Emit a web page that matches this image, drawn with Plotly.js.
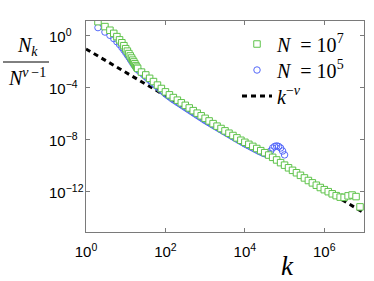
<!DOCTYPE html>
<html>
<head>
<meta charset="utf-8">
<script src="https://cdn.plot.ly/plotly-3.0.1.min.js"></script>
<style>html,body{margin:0;padding:0;background:#fff}#chart{width:374px;height:281px}</style>
</head>
<body>
<div id="chart"></div>
<script>
// N = 10^7 (green squares)
const kBig = [2,3,4,5,6,7,8,9,10,11,12,13,14,15,16,17,18,19,20,
  25,32,40,50,63,79,100,126,158,200,251,316,398,501,631,794,
  1000,1259,1585,1995,2512,3162,3981,5012,6310,7943,
  1e4,1.259e4,1.585e4,1.995e4,2.512e4,3.162e4,3.981e4,5.012e4,6.31e4,7.943e4,
  1e5,1.259e5,1.585e5,1.995e5,2.512e5,3.162e5,3.981e5,5.012e5,6.31e5,7.943e5,
  1e6,1.259e6,1.585e6,1.995e6,2.512e6,3.162e6,3.981e6,5.012e6,6.31e6,7.943e6];
const nBig = [12.6,5.25,2.75,1.58,0.89,0.50,0.30,0.178,0.105,0.068,0.044,0.029,0.020,0.0138,0.0100,0.0072,0.0052,0.0040,0.0032,
  1.66e-3,1.0e-3,5.5e-4,3.1e-4,1.66e-4,9.1e-5,5.0e-5,2.95e-5,1.82e-5,1.15e-5,7.2e-6,4.6e-6,2.9e-6,1.8e-6,1.15e-6,7.2e-7,
  4.6e-7,2.9e-7,1.8e-7,1.15e-7,7.6e-8,5.0e-8,3.3e-8,2.2e-8,1.45e-8,9.5e-9,
  6.6e-9,4.6e-9,3.2e-9,2.2e-9,1.5e-9,1.05e-9,6.9e-10,4.6e-10,2.9e-10,1.8e-10,
  1.15e-10,7.2e-11,4.6e-11,3.0e-11,1.9e-11,1.2e-11,7.6e-12,5.0e-12,3.3e-12,2.2e-12,
  1.5e-12,1.05e-12,7.2e-13,5.2e-13,4.0e-13,3.8e-13,5.0e-13,5.8e-13,4.4e-13,7.1e-14];

// N = 10^5 (blue circles)
const kSmall = [2,3,4,5,6,7,8,9,10,11,12,13,14,15,16,17,18,19,20,
  22.4,25.1,28.2,31.6,35.5,39.8,44.7,50.1,56.2,63.1,70.8,79.4,89.1,
  100,112,126,141,158,178,200,224,251,282,316,355,398,447,501,562,631,708,794,891,
  1000,1122,1259,1413,1585,1778,1995,2239,2512,2818,3162,3548,3981,4467,5012,5623,6310,7079,7943,8913,
  1e4,1.122e4,1.259e4,1.413e4,1.585e4,1.778e4,1.995e4,2.239e4,2.512e4,2.818e4,3.162e4,3.548e4,3.981e4,4.467e4,5.012e4,5.623e4,6.31e4,7.079e4,7.943e4,8.913e4,
  1e5];
const nSmall = [4.37,2.0,1.12,0.63,0.36,0.22,0.132,0.083,0.054,0.035,0.024,0.0166,0.0117,0.0085,0.0063,0.0050,0.0040,0.0032,0.0026,
  1.9e-3,1.45e-3,1.05e-3,7.6e-4,5.5e-4,4.0e-4,2.95e-4,2.2e-4,1.62e-4,1.2e-4,8.9e-5,6.6e-5,4.9e-5,
  3.6e-5,2.75e-5,2.1e-5,1.62e-5,1.26e-5,1.0e-5,7.9e-6,6.3e-6,5.0e-6,4.0e-6,3.16e-6,2.5e-6,2.0e-6,1.58e-6,1.26e-6,1.0e-6,7.9e-7,6.3e-7,5.0e-7,4.0e-7,
  3.16e-7,2.57e-7,2.1e-7,1.7e-7,1.38e-7,1.12e-7,9.1e-8,7.4e-8,6.0e-8,4.9e-8,4.0e-8,3.24e-8,2.63e-8,2.14e-8,1.74e-8,1.41e-8,1.15e-8,9.3e-9,7.6e-9,6.2e-9,
  5.0e-9,4.2e-9,3.5e-9,2.9e-9,2.4e-9,2.0e-9,1.66e-9,1.38e-9,1.17e-9,1.0e-9,8.7e-10,8.3e-10,9.5e-10,1.41e-9,2.4e-9,3.16e-9,3.5e-9,3.16e-9,2.4e-9,1.41e-9,
  7.1e-10];

// power law k^-nu
const kLine = [1, 1e7];
const nLine = [0.1, 2.5e-14];

const xTickVals = [1, 1e2, 1e4, 1e6];
const xTickText = ['10<sup>0</sup>','10<sup>2</sup>','10<sup>4</sup>','10<sup>6</sup>'];
const yTickVals = [1, 1e-4, 1e-8, 1e-12];
const yTickText = ['10<sup>0</sup>','10<sup>\u22124</sup>','10<sup>\u22128</sup>','10<sup>\u221212</sup>'];

const green = 'rgb(95,195,75)';
const blue = 'rgb(85,105,250)';
const serif = 'Liberation Serif, DejaVu Serif, serif';
const sans = 'Liberation Sans, Arial, sans-serif';

const traces = [
  {x: kLine, y: nLine, mode: 'lines', name: '<i>k</i><sup>\u2212<i>\u03bd</i></sup>', legend: 'legend3',
   line: {color: 'black', width: 3, dash: '5px,4px'}},
  {x: kSmall, y: nSmall, mode: 'markers', name: '<i>N</i>\u2002=\u00a010<sup>5</sup>', legend: 'legend2',
   marker: {symbol: 'circle-open', size: 6.5, color: blue, line: {width: 1, color: blue}}},
  {x: kBig, y: nBig, mode: 'markers', name: '<i>N</i>\u2002=\u00a010<sup>7</sup>', legend: 'legend',
   marker: {symbol: 'square', size: 6.5, color: 'white', line: {width: 1, color: green}}}
];

const axisCommon = {
  type: 'log', showline: true, linecolor: '#7a7a7a', linewidth: 1, mirror: 'ticks',
  ticks: 'inside', ticklen: 4, tickcolor: '#7a7a7a', showgrid: false, zeroline: false,
  tickmode: 'array', tickfont: {family: sans, size: 15, color: 'black'}
};

const px = v => (v - 86) / 278;
const py = v => 1 - (v - 21) / 211;

const legendBox = yc => ({x: px(237), y: py(yc), xanchor: 'left', yanchor: 'middle',
  font: {family: serif, size: 20, color: 'black'}, bgcolor: 'rgba(0,0,0,0)', borderwidth: 0});

// left-aligned y tick labels built from the tick arrays
const yLabelAnn = yTickVals.map((v, i) => ({
  xref: 'paper', yref: 'y', x: px(47), y: Math.log10(v), xanchor: 'left', yanchor: 'middle',
  text: yTickText[i], showarrow: false, font: {family: sans, size: 15, color: 'black'}
}));

const layout = {
  width: 374, height: 281,
  margin: {l: 86, r: 10, t: 21, b: 49},
  paper_bgcolor: 'white', plot_bgcolor: 'white',
  showlegend: true,
  legend: legendBox(44),
  legend2: legendBox(70),
  legend3: legendBox(96),
  xaxis: Object.assign({}, axisCommon, {range: [0, 7], tickvals: xTickVals, ticktext: xTickText, ticklabelstandoff: 6}),
  yaxis: Object.assign({}, axisCommon, {range: [-15.08, 1.15], tickvals: yTickVals, ticktext: yTickText, showticklabels: false}),
  annotations: yLabelAnn.concat([
    {xref: 'paper', yref: 'paper', x: px(27), y: py(61), xanchor: 'center', yanchor: 'bottom',
     text: '<i>N<sub>k</sub></i>', showarrow: false, font: {family: serif, size: 20, style: 'italic', color: 'black'}},
    {xref: 'paper', yref: 'paper', x: px(27), y: py(63), xanchor: 'center', yanchor: 'top',
     text: '<i>N</i><sup><i>\u03bd</i>\u2009\u22121</sup>', showarrow: false, font: {family: serif, size: 20, color: 'black'}},
    {xref: 'paper', yref: 'paper', x: px(287), y: py(266), xanchor: 'center', yanchor: 'middle',
     text: '<i>k</i>', showarrow: false, font: {family: serif, size: 27, style: 'italic', color: 'black'}}
  ]),
  shapes: [
    {type: 'line', xref: 'paper', yref: 'paper', x0: px(3), x1: px(49), y0: py(62), y1: py(62),
     line: {color: 'black', width: 1}}
  ]
};

Plotly.newPlot('chart', traces, layout, {staticPlot: true, displayModeBar: false});
</script>
</body>
</html>
